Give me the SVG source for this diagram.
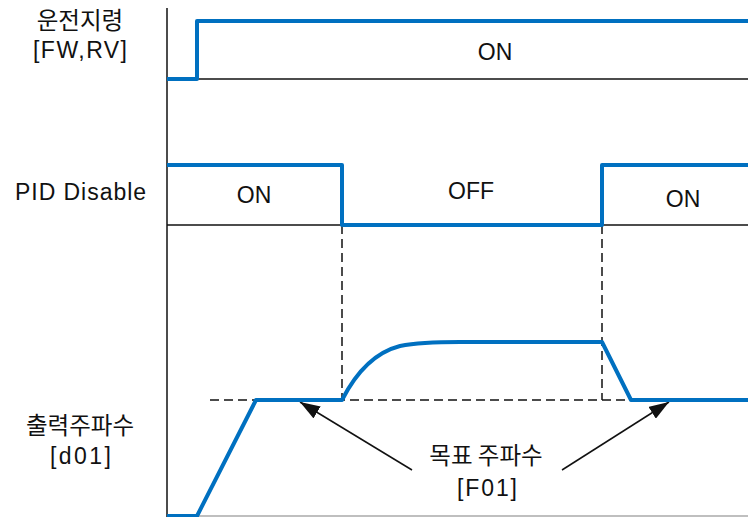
<svg xmlns="http://www.w3.org/2000/svg" width="748" height="517" viewBox="0 0 748 517">
<defs>
<style>
.t{font-family:"Liberation Sans","Noto Sans CJK KR",sans-serif;font-size:23px;fill:#111;}
.k{font-family:"Noto Sans CJK KR","Liberation Sans",sans-serif;font-size:23.5px;fill:#111;}
.ax{stroke:#111;stroke-width:1.5;fill:none;}
.sig{stroke:#0070C0;stroke-width:4;fill:none;stroke-linejoin:round;}
.dash{stroke:#111;stroke-width:1.5;stroke-dasharray:9 5;fill:none;}
.arr{stroke:#111;stroke-width:1.5;fill:none;marker-end:url(#ah);}
</style>
<marker id="ah" viewBox="0 0 20 14" refX="20" refY="7" markerWidth="20" markerHeight="14" markerUnits="userSpaceOnUse" orient="auto">
<path d="M0,0 L20,7 L0,14 Z" fill="#111"/>
</marker>
</defs>
<rect width="748" height="517" fill="#fff"/>
<g id="axes">
<line class="ax" x1="167" y1="8" x2="167" y2="517"/>
<line class="ax" x1="167" y1="79" x2="748" y2="79"/>
<line class="ax" x1="167" y1="225" x2="748" y2="225"/>
<line x1="167" y1="516" x2="748" y2="516" stroke="#aaa" stroke-width="1.5"/>
</g>
<g id="connectors">
<line class="dash" x1="342" y1="225" x2="342" y2="400"/>
<line class="dash" x1="602" y1="225" x2="602" y2="400"/>
<line class="dash" x1="210" y1="400" x2="748" y2="400"/>
<line class="arr" x1="412" y1="470" x2="300" y2="402"/>
<line class="arr" x1="562" y1="470" x2="669" y2="402"/>
</g>
<g id="run-command">
<text class="k" x="80" y="29" text-anchor="middle">운전지령</text>
<text class="t" x="33" y="58" textLength="94">[FW,RV]</text>
<polyline class="sig" points="167,79 197,79 197,21 748,21"/>
<text class="t" x="495" y="60" text-anchor="middle">ON</text>
</g>
<g id="pid-disable">
<text class="t" x="15" y="200" textLength="131">PID Disable</text>
<polyline class="sig" points="167,165 342,165 342,225 602,225 602,165 748,165"/>
<text class="t" x="254" y="203" text-anchor="middle">ON</text>
<text class="t" x="471" y="199" text-anchor="middle">OFF</text>
<text class="t" x="683" y="207" text-anchor="middle">ON</text>
</g>
<g id="output-frequency">
<text class="k" x="80" y="434" text-anchor="middle">출력주파수</text>
<text class="t" x="50" y="464" textLength="61">[d01]</text>
<path class="sig" d="M167,516 L197,516 L256,400 L342,400 Q365,355 400,346 Q420,342 460,342 L602,342 L631,400 L748,400"/>
</g>
<g id="target-frequency">
<text class="k" x="486" y="464" text-anchor="middle">목표 주파수</text>
<text class="t" x="457" y="496" textLength="60">[F01]</text>
</g>
</svg>
